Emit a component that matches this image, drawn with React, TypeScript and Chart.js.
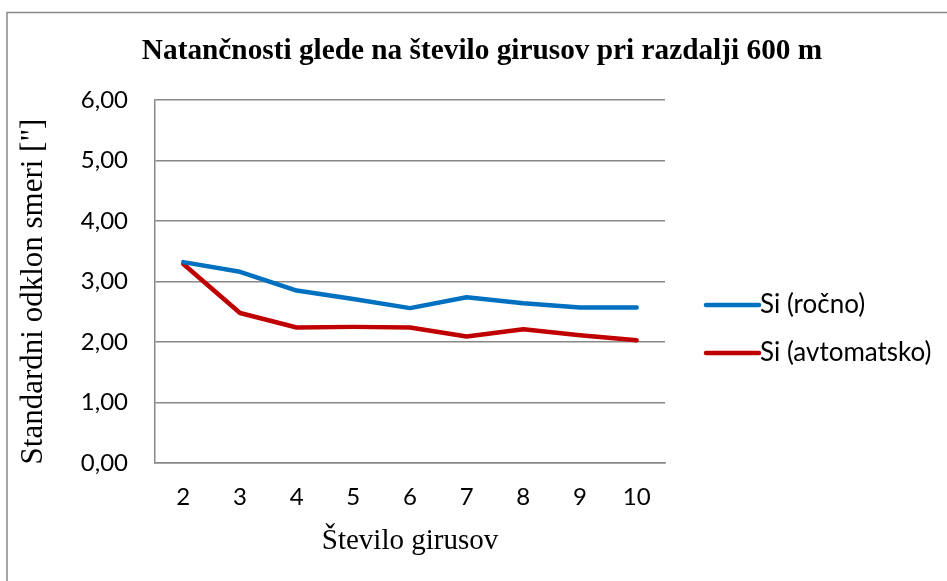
import React, { useEffect, useRef } from "react";
import { Chart, registerables } from "chart.js";

Chart.register(...registerables);

const categories = ["2", "3", "4", "5", "6", "7", "8", "9", "10"];
const rocno = [3.32, 3.16, 2.85, 2.71, 2.56, 2.74, 2.64, 2.57, 2.57];
const avtomatsko = [3.29, 2.48, 2.24, 2.25, 2.24, 2.09, 2.21, 2.11, 2.03];
const seriesNames = ["Si (ročno)", "Si (avtomatsko)"];
const seriesColors = ["#0070C0", "#C00000"];
const chartTitle = "Natančnosti glede na število girusov pri razdalji 600 m";
const xTitle = "Število girusov";
const yTitle = "Standardni odklon smeri [\"]";

const TICK_FONT = "Lato";
const SERIF = "'Liberation Serif', 'Times New Roman', serif";

const decorPlugin = {
  id: "decor",
  beforeDraw(chart: any) {
    const ctx = chart.ctx;
    ctx.save();
    ctx.fillStyle = "#ffffff";
    ctx.fillRect(0, 0, chart.width, chart.height);
    ctx.strokeStyle = "#888888";
    ctx.lineWidth = 1.5;
    ctx.strokeRect(7, 12.5, chart.width + 10, chart.height + 10);
    ctx.restore();
  },
  afterDraw(chart: any) {
    const ctx = chart.ctx;
    ctx.save();
    ctx.fillStyle = "#000";
    // Title
    ctx.font = `bold 29.3px ${SERIF}`;
    ctx.textAlign = "center";
    ctx.textBaseline = "alphabetic";
    ctx.fillText(chartTitle, 482, 59);
    // X title
    ctx.font = `29px ${SERIF}`;
    ctx.fillText(xTitle, 410, 549);
    // Y title
    ctx.save();
    ctx.translate(42, 291.5);
    ctx.rotate(-Math.PI / 2);
    ctx.font = `31px ${SERIF}`;
    ctx.fillText(yTitle, 0, 0);
    ctx.restore();
    // Legend
    chart.data.datasets.forEach((ds: any, i: number) => {
      const y = 305 + i * 48;
      ctx.strokeStyle = ds.borderColor;
      ctx.lineWidth = 4.5;
      ctx.lineCap = "round";
      ctx.beginPath();
      ctx.moveTo(706, y);
      ctx.lineTo(759, y);
      ctx.stroke();
      ctx.fillStyle = "#000";
      ctx.font = `26px ${TICK_FONT}`;
      ctx.textAlign = "left";
      ctx.textBaseline = "middle";
      ctx.fillText(ds.label, 760, y);
    });
    ctx.restore();
  },
};

export default function App() {
  const ref = useRef<HTMLCanvasElement>(null);
  useEffect(() => {
    if (!ref.current) return;
    const chart = new Chart(ref.current, {
      type: "line",
      data: {
        labels: categories,
        datasets: [
          {
            label: seriesNames[0],
            data: rocno,
            borderColor: seriesColors[0],
            backgroundColor: seriesColors[0],
            borderWidth: 4.5,
            pointRadius: 0,
            borderCapStyle: "round",
            borderJoinStyle: "round",
            tension: 0,
          },
          {
            label: seriesNames[1],
            data: avtomatsko,
            borderColor: seriesColors[1],
            backgroundColor: seriesColors[1],
            borderWidth: 4.5,
            pointRadius: 0,
            borderCapStyle: "round",
            borderJoinStyle: "round",
            tension: 0,
          },
        ],
      },
      options: {
        responsive: false,
        animation: false,
        layout: { padding: { top: 100, right: 282, bottom: 0, left: 0 } },
        plugins: {
          legend: { display: false },
          title: { display: false },
          tooltip: { enabled: false },
        },
        scales: {
          x: {
            offset: true,
            grid: { display: false, drawTicks: false },
            border: { display: true, color: "#888888", width: 1.5 },
            ticks: {
              color: "#000",
              font: { family: TICK_FONT, size: 24 },
              padding: 20,
              maxRotation: 0,
            },
            afterFit(scale: any) {
              scale.height = 118;
            },
          },
          y: {
            min: 0,
            max: 6,
            grid: { color: "#888888", lineWidth: 1.5, drawTicks: false },
            border: { display: true, color: "#888888", width: 1.5 },
            ticks: {
              stepSize: 1,
              color: "#000",
              font: { family: TICK_FONT, size: 24 },
              padding: 27,
              callback: (v: any) => Number(v).toFixed(2).replace(".", ","),
            },
            afterFit(scale: any) {
              scale.width = 155;
            },
          },
        },
      },
      plugins: [decorPlugin],
    });
    return () => chart.destroy();
  }, []);
  return (
    <div style={{ position: "absolute", left: 0, top: 0, width: 947, height: 581 }}>
      <canvas ref={ref} width={947} height={581} style={{ display: "block" }} />
    </div>
  );
}
